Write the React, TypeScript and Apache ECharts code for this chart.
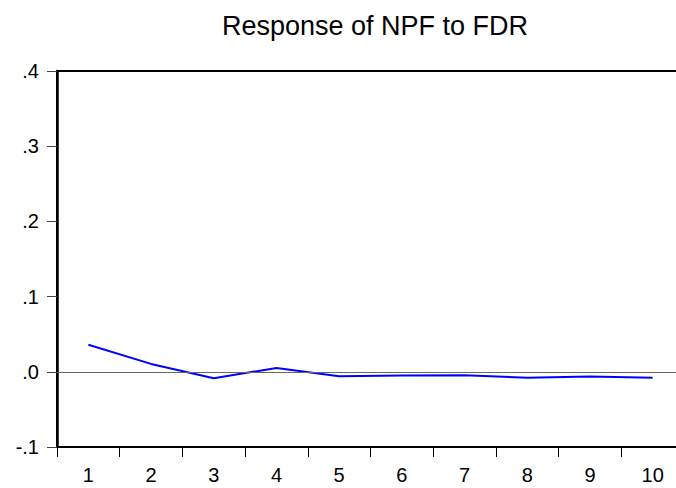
import React, { useEffect, useRef } from "react";
import * as echarts from "echarts";

const titleText = "Response of NPF to FDR";
const periods = ["1", "2", "3", "4", "5", "6", "7", "8", "9", "10"];
const response = [0.036, 0.0105, -0.0085, 0.005, -0.006, -0.005, -0.0045, -0.008, -0.0063, -0.008];
const yMin = -0.1;
const yMax = 0.4;
const yStep = 0.1;

function fmt(v: number): string {
  const r = Math.round(v * 10) / 10;
  const s = r.toFixed(1);
  if (s.startsWith("-0")) return "-" + s.slice(2);
  if (s.startsWith("0")) return s.slice(1);
  return s;
}

export default function App() {
  const ref = useRef<HTMLDivElement>(null);
  useEffect(() => {
    if (!ref.current) return;
    const chart = echarts.init(ref.current, undefined, { renderer: "svg" });
    chart.setOption({
      animation: false,
      backgroundColor: "#ffffff",
      title: {
        text: titleText,
        left: 370,
        top: 7,
        textAlign: "center",
        textStyle: {
          fontFamily: "Liberation Sans, Arial, sans-serif",
          fontSize: 27,
          fontWeight: "normal",
          color: "#000",
        },
      },
      grid: {
        left: 57,
        top: 71,
        width: 627,
        height: 376,
        show: true,
        borderColor: "#000",
        borderWidth: 2,
        backgroundColor: "transparent",
        outerBoundsMode: "none",
        containLabel: false,
      },
      xAxis: {
        type: "category",
        data: periods,
        boundaryGap: true,
        axisLine: { show: true, onZero: false, lineStyle: { color: "#000", width: 2 } },
        axisTick: { show: true, length: 10, inside: false, lineStyle: { color: "#000", width: 1 } },
        axisLabel: {
          margin: 18,
          fontFamily: "Liberation Sans, Arial, sans-serif",
          fontSize: 20,
          color: "#000",
        },
        splitLine: { show: false },
      },
      yAxis: {
        type: "value",
        min: yMin,
        max: yMax,
        interval: yStep,
        axisLine: { show: true, lineStyle: { color: "#000", width: 2.5 } },
        axisTick: { show: true, length: 10, inside: false, lineStyle: { color: "#444", width: 1 } },
        axisLabel: {
          margin: 18,
          fontFamily: "Liberation Sans, Arial, sans-serif",
          fontSize: 20,
          color: "#000",
          formatter: (v: number) => fmt(v),
        },
        splitLine: { show: false },
      },
      series: [
        {
          type: "line",
          data: response,
          symbol: "none",
          lineStyle: { color: "#0000ff", width: 2 },
          itemStyle: { color: "#0000ff" },
          markLine: {
            silent: true,
            symbol: ["none", "none"],
            label: { show: false },
            lineStyle: { color: "#666", width: 1, type: "solid" },
            data: [{ yAxis: 0 }],
          },
          z: 3,
        },
      ],
    });
    return () => chart.dispose();
  }, []);
  return <div ref={ref} style={{ width: 676, height: 488, position: "absolute", left: 0, top: 0 }} />;
}
